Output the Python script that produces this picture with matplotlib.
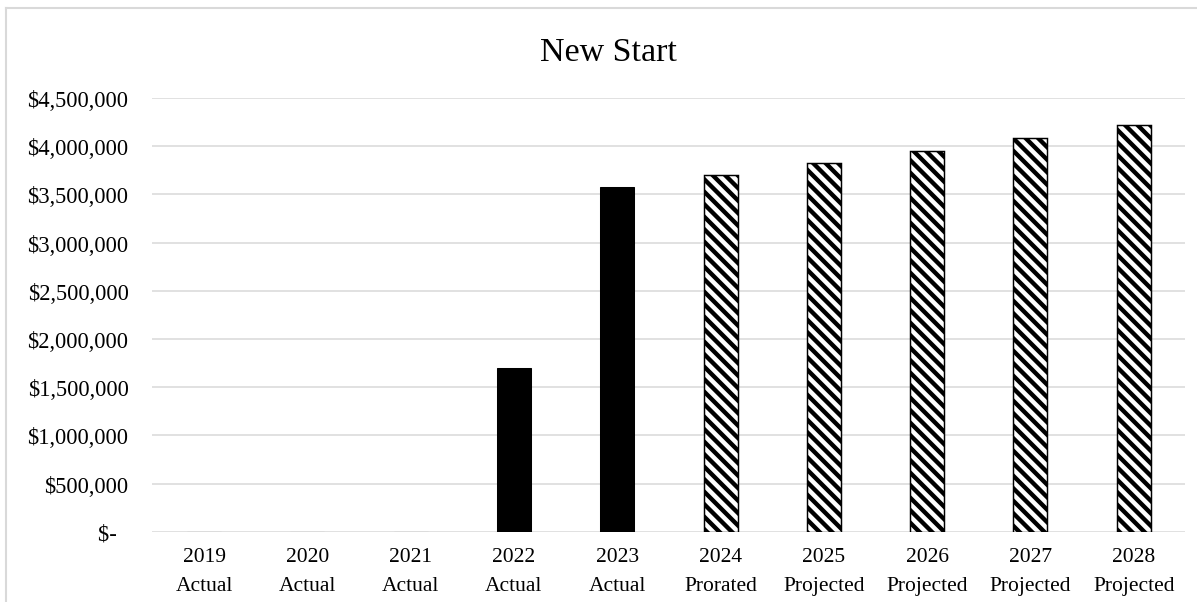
import matplotlib
matplotlib.use("Agg")
import matplotlib.pyplot as plt
from matplotlib.lines import Line2D
from matplotlib.ticker import FuncFormatter
import numpy as np

years = ["2019", "2020", "2021", "2022", "2023", "2024", "2025", "2026", "2027", "2028"]
kinds = ["Actual", "Actual", "Actual", "Actual", "Actual",
         "Prorated", "Projected", "Projected", "Projected", "Projected"]
values = [0, 0, 0, 1695000, 3579000, 3700000, 3828000, 3952000, 4084000, 4219000]

W, H, DPI = 1197, 603, 150
plt.rcParams['font.family'] = ['Liberation Serif', 'DejaVu Serif']
plt.rcParams['hatch.linewidth'] = 2.1

fig = plt.figure(figsize=(W / DPI, H / DPI), dpi=DPI)
ax = fig.add_axes([152.4 / W, 1 - 532.7 / H, (1185.4 - 152.4) / W, (532.7 - 99) / H])

x = np.arange(len(years))
for i in range(len(years)):
    if kinds[i] == "Actual":
        ax.bar(x[i], values[i], width=0.33, color="black", edgecolor="black", linewidth=0.5, zorder=3)
    else:
        ax.bar(x[i], values[i], width=0.33, color="white", edgecolor="black", linewidth=0.7,
               hatch="\\\\\\\\", zorder=3)

ax.set_xlim(-0.5, len(years) - 0.5)
ax.set_ylim(0, 4500000)
ax.set_yticks(np.arange(0, 4500001, 500000))
ax.yaxis.set_major_formatter(FuncFormatter(lambda v, p: "$-  " if v == 0 else "${:,.0f}".format(v)))
ax.set_xticks(x)
ax.set_xticklabels([y + "\n" + k for y, k in zip(years, kinds)], linespacing=1.68)
ax.tick_params(axis="both", length=0, colors="#000000")
ax.tick_params(axis="y", pad=11.5, labelsize=10.8)
ax.tick_params(axis="x", pad=7.5, labelsize=10.3)
ax.grid(axis="y", color="#d9d9d9", linewidth=0.75, zorder=0)
for s in ax.spines.values():
    s.set_visible(False)

fig.text(608 / W, 1 - 60.7 / H, "New Start", ha="center", va="baseline", fontsize=16.3)

# outer chart border (top and left)
fig.add_artist(Line2D([6 / W, 1], [1 - 9 / H, 1 - 9 / H], color="#d9d9d9", linewidth=1.0))
fig.add_artist(Line2D([6 / W, 6 / W], [0, 1 - 9 / H], color="#d9d9d9", linewidth=1.0))

fig.savefig("out.png", dpi=DPI)
